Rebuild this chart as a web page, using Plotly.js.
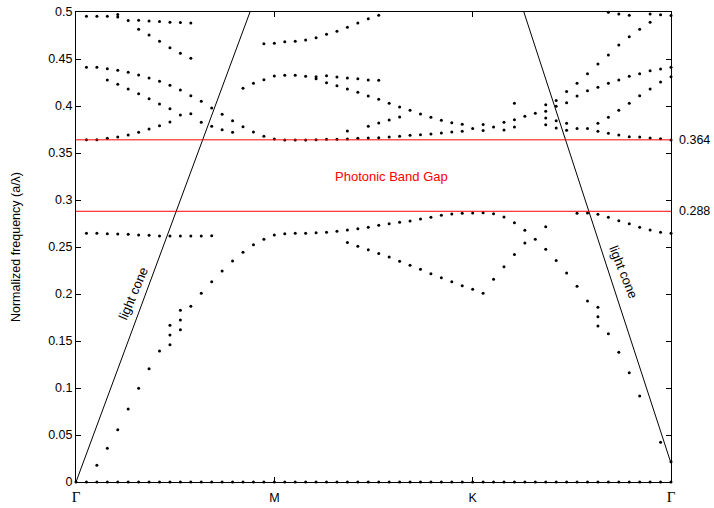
<!DOCTYPE html>
<html><head><meta charset="utf-8">
<script src="https://cdn.plot.ly/plotly-3.0.1.min.js"></script>
<style>html,body{margin:0;padding:0;background:#fff}</style>
</head><body><div id="chart" style="width:714px;height:508px"></div>
<script>
// k-point index along the path Γ–M–K–Γ (19 steps per segment)
const kIndex = [0,1,2,3,4,5,6,7,8,9,10,11,12,13,14,15,16,17,18,19,20,21,22,23,24,25,26,27,28,29,30,31,32,33,34,35,36,37,38,39,40,41,42,43,44,45,46,47,48,49,50,51,52,53,54,55,56,57];
const kTickVals = [0,19,38,57];
const kTickText = ['Γ','M','K','Γ'];

// band frequencies (a/λ); null = mode not found
const band0 = [0,0,0,0,0,0,0,0,0,0, 0,0,0,0,0,0,0,0,0,0, 0,0,0,0,0,0,0,0,0,0, 0,0,0,0,0,0,0,0,0,0, 0,0,0,0,0,0,0,0,0,0, 0,0,0,0,0,0,0,0];
const band1 = [null,null,0.0178,0.0359,0.0556,0.0777,0.0997,0.1205,0.1394,0.1461,
  0.1620,0.1869,0.2007,0.2131,0.2245,0.2351,0.2444,0.2524,0.2582,0.2628,
  null,null,null,null,null,null,0.2548,0.2507,0.2471,0.2431,
  0.2394,0.2348,0.2305,0.2263,0.2216,0.2173,0.2131,0.2088,0.2050,0.2007,
  0.2156,0.2290,0.2420,0.2543,0.2582,0.2476,0.2356,0.2223,0.2082,0.1926,
  0.1759,0.1578,0.1380,0.1163,0.0915,null,0.0422,0.0216];
const band2 = [null,0.2646,0.2646,0.2641,0.2638,0.2635,0.2628,0.2624,0.2617,0.2617,
  0.2617,0.2617,0.2617,0.2620,null,null,null,null,null,null,
  0.2641,0.2646,0.2646,0.2652,0.2656,0.2667,0.2681,0.2695,0.2710,0.2731,
  0.2748,0.2763,0.2777,0.2798,0.2816,0.2837,0.2851,0.2858,0.2862,0.2865,
  0.2854,0.2819,0.2759,0.2678,null,0.2716,null,null,0.2858,0.2862,
  0.2848,0.2816,0.2780,0.2748,0.2710,0.2681,0.2656,0.2646];
const band3 = [null,0.4412,0.4412,0.4397,0.4380,0.4359,0.4330,0.4298,0.4263,0.4220,
  0.4170,0.4110,0.4050,0.3979,0.3912,0.3844,0.3780,0.3723,0.3678,0.3649,
  0.3638,0.3638,0.3638,0.3641,0.3645,0.3645,0.3649,0.3656,0.3659,0.3663,
  0.3670,0.3678,0.3688,0.3695,0.3702,0.3713,0.3723,0.3731,0.3761,0.3739,
  0.3777,0.3745,0.3777,null,null,0.3801,0.3766,0.3743,0.3761,0.3761,
  0.3731,0.3709,0.3691,0.3673,0.3670,0.3659,0.3652,0.3638];
const band4 = [null,null,null,0.4277,0.4231,0.4181,0.4131,0.4078,0.4021,0.3971,
  0.3904,null,0.3826,0.3784,0.3748,0.3720,null,null,null,null,
  null,null,null,null,null,null,null,null,null,null,
  null,null,null,null,null,null,null,null,null,null,
  null,null,null,null,null,null,null,null,null,null,
  null,null,null,null,null,null,null,null];
const band5 = [null,0.3641,0.3641,0.3656,0.3670,0.3691,0.3720,0.3755,0.3790,0.3830,
  null,0.3918,null,null,null,null,0.4188,0.4241,0.4280,0.4319,
  0.4327,0.4327,0.4316,0.4312,0.4322,0.4309,0.4298,0.4291,0.4277,0.4273,
  null,null,null,null,null,null,null,null,null,0.3803,
  null,0.3826,0.3854,0.3891,0.3922,0.3944,0.3997,0.4035,0.4106,0.4161,
  0.4199,0.4241,0.4277,0.4316,0.4344,0.4376,0.4394,0.4412];
const band6 = [null,null,null,null,null,null,null,null,null,null,
  null,null,null,null,null,null,null,null,null,null,
  null,null,null,0.4291,0.4248,0.4216,0.4181,0.4146,0.4106,0.4071,
  0.4029,0.3990,0.3954,0.3915,0.3880,0.3848,0.3822,0.3805,null,null,
  null,null,null,null,null,0.3872,0.3843,0.3816,null,null,
  0.3817,0.3880,0.3954,0.4029,0.4110,0.4181,0.4255,0.4312];
const band7 = [null,null,null,null,null,null,0.4816,0.4755,0.4688,0.4620,
  0.4561,0.4507,null,null,null,null,null,null,0.4663,0.4667,
  0.4684,0.4688,0.4702,0.4727,0.4763,0.4795,0.4837,0.4884,0.4927,0.4965,
  null,null,null,null,null,null,null,null,null,null,
  null,null,null,null,null,0.4014,0.4059,0.4154,0.4243,0.4344,
  0.4447,0.4543,0.4649,0.4737,0.4816,0.4891,null,null];
const band8 = [null,0.4954,0.4954,0.4954,0.4947,0.4909,0.4912,0.4905,0.4899,0.4891,
  0.4888,0.4884,null,null,null,null,null,null,null,null,
  null,null,null,null,null,null,null,null,null,null,
  null,null,null,null,null,null,null,null,null,null,
  null,null,null,null,null,null,null,null,null,null,
  null,0.4997,0.4979,0.4965,null,0.4979,0.4971,0.4963];
// isolated extra modes
const extraK    = [4, 9, 9, 10, 10, 26, 28, 29, 30, 31, 42, 50, 50];
const extraFreq = [0.4973, 0.1564, 0.1667, 0.1723, 0.1827, 0.3734, 0.3784, 0.3819, 0.3851, 0.3883, 0.4029, 0.1859, 0.1660];

// light cone (left: Γ→M, right: K→Γ)
const coneLeftK = [0, 19];
const coneLeftFreq = [0, 0.57];
const coneRightK = [38, 57];
const coneRightFreq = [0.667, 0.02];

// band-gap edges
const gapEdges = [0.364, 0.288];
const gapLabel = 'Photonic Band Gap';

const bands = [band0, band1, band2, band3, band4, band5, band6, band7, band8];
const traces = [];
bands.forEach(b => traces.push({
  x: kIndex, y: b, type: 'scatter', mode: 'markers',
  marker: {color: '#000', size: 3}, cliponaxis: false,
  showlegend: false, hoverinfo: 'skip'
}));
traces.push({x: extraK, y: extraFreq, type: 'scatter', mode: 'markers',
  marker: {color: '#000', size: 3}, cliponaxis: false, showlegend: false, hoverinfo: 'skip'});
traces.push({x: coneLeftK, y: coneLeftFreq, type: 'scatter', mode: 'lines',
  line: {color: '#000', width: 1}, showlegend: false, hoverinfo: 'skip'});
traces.push({x: coneRightK, y: coneRightFreq, type: 'scatter', mode: 'lines',
  line: {color: '#000', width: 1}, showlegend: false, hoverinfo: 'skip'});
gapEdges.forEach(g => traces.push({x: [kIndex[0], kIndex[kIndex.length-1]], y: [g, g],
  type: 'scatter', mode: 'lines', line: {color: '#ff0000', width: 1},
  showlegend: false, hoverinfo: 'skip'}));

const annotations = gapEdges.map(g => ({
  xref: 'paper', x: 1, xanchor: 'left', xshift: 6, yref: 'y', y: g, yanchor: 'middle',
  text: String(g), showarrow: false, font: {size: 12.5, color: '#000'}
}));
annotations.push({x: 24.6, y: 0.3255, xref: 'x', yref: 'y', xanchor: 'left', yanchor: 'middle',
  text: gapLabel, showarrow: false, font: {size: 13, color: '#ff0000'}});
annotations.push({x: 5.46, y: 0.201, xref: 'x', yref: 'y', text: 'light cone', textangle: -67,
  showarrow: false, font: {size: 13, color: '#000'}});
annotations.push({x: 52.5, y: 0.2234, xref: 'x', yref: 'y', text: 'light cone', textangle: 68,
  showarrow: false, font: {size: 13, color: '#000'}});

const layout = {
  width: 714, height: 508,
  margin: {l: 76, r: 43, t: 12, b: 26, pad: 0},
  paper_bgcolor: '#fff', plot_bgcolor: '#fff',
  font: {family: '"Liberation Sans", Arial, sans-serif', size: 12.5, color: '#000'},
  showlegend: false,
  xaxis: {
    range: [0, 57], tickvals: kTickVals,
    ticktext: kTickText.map(t => t === 'Γ' ? '<span style="font-family:\'Liberation Serif\', serif;font-size:15px">Γ</span>' : t),
    ticks: 'inside', ticklen: 5, tickwidth: 1, tickcolor: '#000',
    showline: true, linecolor: '#000', linewidth: 1, mirror: 'ticks',
    showgrid: false, zeroline: false, tickfont: {size: 12.5}, ticklabelstandoff: 4
  },
  yaxis: {
    range: [0, 0.5], tick0: 0, dtick: 0.05,
    ticks: 'inside', ticklen: 5, tickwidth: 1, tickcolor: '#000',
    showline: true, linecolor: '#000', linewidth: 1, mirror: 'ticks',
    showgrid: false, zeroline: false, tickfont: {size: 12.5},
    title: {text: 'Normalized frequency (a/λ)', font: {size: 12.5}, standoff: 24}
  },
  annotations: annotations
};
Plotly.newPlot('chart', traces, layout, {staticPlot: true, displayModeBar: false});
</script>
</body></html>
